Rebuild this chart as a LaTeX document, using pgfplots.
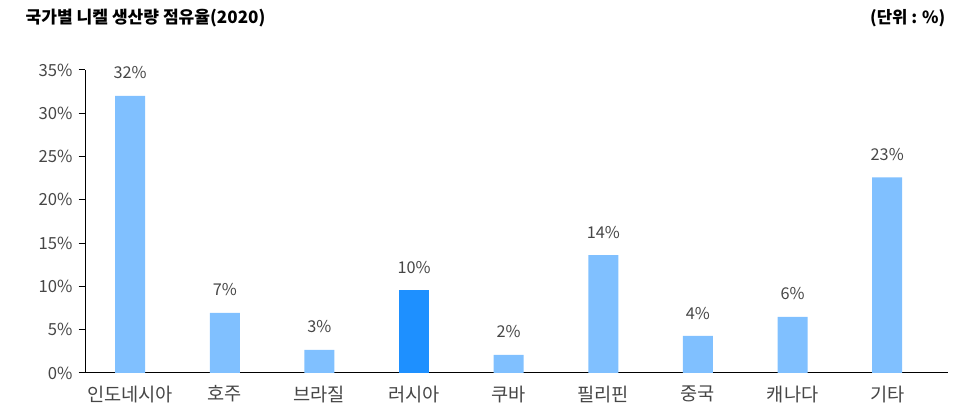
\documentclass[border=0pt]{standalone}
\usepackage{pgfplots}
\pgfplotsset{compat=1.18}
\usepackage{fontspec}
\setmainfont{Noto Sans CJK KR}
\definecolor{barlight}{RGB}{128,192,255}
\definecolor{bardark}{RGB}{30,144,255}
\definecolor{txtgray}{RGB}{70,70,70}
\begin{document}
\begin{tikzpicture}[x=0.75pt,y=0.75pt]
\path[use as bounding box] (0,0) rectangle (954,411);
\node[anchor=west,font=\bfseries\fontsize{12.8}{15}\selectfont,text=black] at (21,393) {국가별 니켈 생산량 점유율(2020)};
\node[anchor=east,font=\bfseries\fontsize{12.5}{15}\selectfont,text=black] at (950,393) {(단위 : \%)};
\begin{axis}[
    at={(90,44)}, anchor=south west,
    scale only axis,
    width=647.25pt, height=227.25pt,
    ybar, bar width=22.5pt,
    xmin=-0.475, xmax=8.644,
    ymin=0, ymax=35,
    ytick={0,5,...,35},
    yticklabel={\pgfmathprintnumber{\tick}\%},
    /pgf/number format/assume math mode=true,
    xtick={0,...,8},
    xticklabels={인도네시아,호주,브라질,러시아,쿠바,필리핀,중국,캐나다,기타},
    xtick style={draw=none},
    axis x line=bottom, axis y line=left,
    axis line style={-, black, line width=0.8pt},
    y tick style={black, line width=0.8pt},
    tick align=outside,
    major tick length=5pt,
    yticklabel style={font=\fontsize{12.5}{14}\selectfont, text=txtgray, xshift=-1pt},
    xticklabel style={font=\fontsize{14}{16}\selectfont, text=txtgray, yshift=-1pt},
    nodes near coords={\pgfmathprintnumber[fixed,precision=0]{\pgfplotspointmeta}\%},
    nodes near coords style={font=\fontsize{12.2}{14}\selectfont, text=txtgray, yshift=9pt},
    clip=false,
]
\addplot[draw=none, fill=barlight, bar shift=0pt] coordinates {
    (0,32.0) (1,6.93) (2,2.66) (4,2.08) (5,13.6) (6,4.27) (7,6.47) (8,22.6)
};
\addplot[draw=none, fill=bardark, bar shift=0pt] coordinates {
    (3,9.58)
};
\end{axis}
\end{tikzpicture}
\end{document}
